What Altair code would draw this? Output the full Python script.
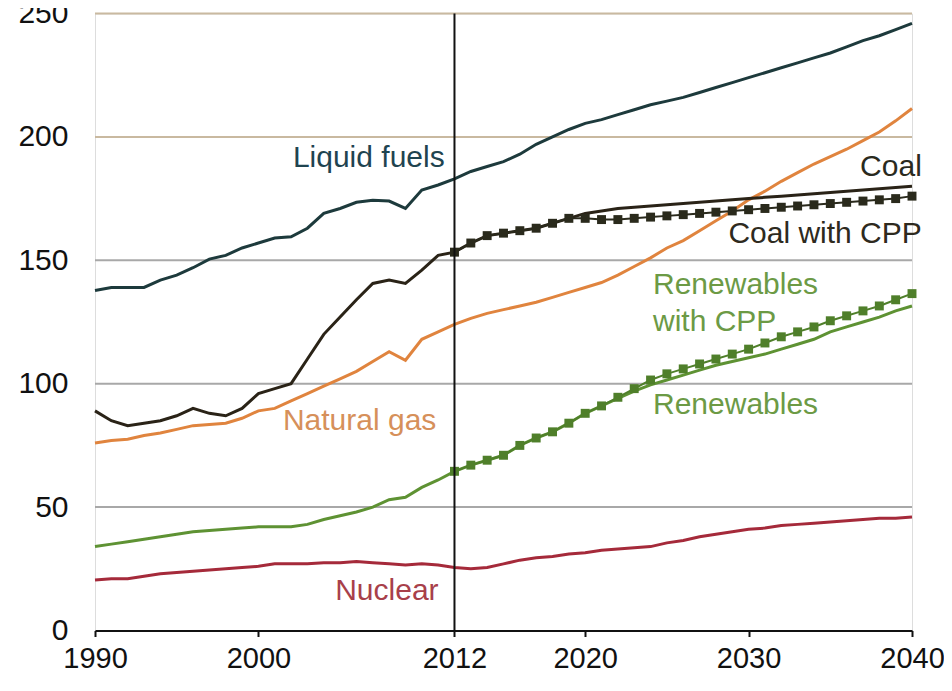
import altair as alt
import pandas as pd

years = list(range(1990, 2041))
proj_years = list(range(2012, 2041))

liquid_fuels = [137.8, 139, 139, 139, 142, 144, 147, 150.5, 152, 155,
                157, 159, 159.5, 163, 169, 171, 173.5, 174.3, 174, 171,
                178.5, 180.5, 183, 186, 188, 190, 193, 197, 200, 203,
                205.5, 207, 209, 211, 213, 214.5, 216, 218, 220, 222,
                224, 226, 228, 230, 232, 234, 236.5, 239, 241, 243.5, 246]

natural_gas = [76, 77, 77.5, 79, 80, 81.5, 83, 83.5, 84, 86,
               89, 90, 93, 96, 99, 102, 105, 109, 113, 109.5,
               118, 121, 124, 126.5, 128.5, 130, 131.5, 133, 135, 137,
               139, 141, 144, 147.5, 151, 155, 158, 162, 166, 170,
               174.5, 178, 182, 185.5, 189, 192, 195, 198.5, 202, 206.5, 211.5]

coal = [89, 85, 83, 84, 85, 87, 90, 88, 87, 90,
        96, 98, 100, 110, 120, 127, 134, 140.6, 142, 140.6,
        146, 152, 153.3, 157, 160, 161, 162, 163, 165, 167,
        169, 170, 171, 171.5, 172, 172.5, 173, 173.5, 174, 174.5,
        175, 175.5, 176, 176.5, 177, 177.5, 178, 178.5, 179, 179.5, 180]

coal_cpp = [153.3, 157, 160, 161, 162, 163, 165, 167,
            167, 166.5, 166.5, 167, 167.5, 168, 168.5, 169, 169.5, 170,
            170.5, 171, 171.5, 172, 172.5, 173, 173.5, 174, 174.5, 175, 176]

renewables = [34, 35, 36, 37, 38, 39, 40, 40.5, 41, 41.5,
              42, 42, 42, 43, 45, 46.5, 48, 50, 53, 54,
              58, 61, 64.5, 67, 69, 71, 75, 78, 80.5, 84,
              88, 91, 94, 97, 99.5, 101.5, 103.5, 105.5, 107.5, 109,
              110.5, 112, 114, 116, 118, 121, 123, 125, 127, 129.5, 131.5]

renewables_cpp = [64.5, 67, 69, 71, 75, 78, 80.5, 84,
                  88, 91, 94.5, 98, 101.5, 104, 106, 108, 110, 112,
                  114, 116.5, 119, 121, 123, 125.5, 127.5, 129.5, 131.5, 134, 136.5]

nuclear = [20.5, 21, 21, 22, 23, 23.5, 24, 24.5, 25, 25.5,
           26, 27, 27, 27, 27.5, 27.5, 28, 27.5, 27, 26.5,
           27, 26.5, 25.5, 25, 25.5, 27, 28.5, 29.5, 30, 31,
           31.5, 32.5, 33, 33.5, 34, 35.5, 36.5, 38, 39, 40,
           41, 41.5, 42.5, 43, 43.5, 44, 44.5, 45, 45.5, 45.5, 46]

x_ticks = [1990, 2000, 2012, 2020, 2030, 2040]
y_ticks = [0, 50, 100, 150, 200, 250]
grid_values = [50, 100, 150, 200, 250]
grid_colors = ["#a8a8a8", "#a8a8a8", "#a8a8a8", "#c9b9a0", "#c9b9a0"]

series_names = ["Nuclear", "Renewables", "Natural gas", "Liquid fuels", "Coal"]
series_colors = ["#a52a3a", "#5e9233", "#e0843e", "#1d3a3c", "#2a2317"]
cpp_names = ["Renewables with CPP", "Coal with CPP"]
cpp_colors = ["#4f7f2a", "#2a2a1c"]

label_text = ["Liquid fuels", "Coal", "Coal with CPP", "Renewables", "with CPP",
              "Renewables", "Natural gas", "Nuclear"]
label_year = [2011.4, 2040.6, 2040.6, 2024.15, 2024.15, 2024.15, 2001.5, 2004.7]
label_value = [191.3, 187.7, 160.5, 139.8, 124.8, 91.2, 84.7, 16.2]
label_align = ["right", "right", "right", "left", "left", "left", "left", "left"]
label_color = ["#1f4450", "#2a2a1e", "#2e2a1e", "#6c9a45", "#6c9a45", "#6c9a45", "#d6905a", "#a8404a"]

rows = []
for name, vals in zip(series_names, [nuclear, renewables, natural_gas, liquid_fuels, coal]):
    for y, v in zip(years, vals):
        rows.append({"year": y, "value": v, "series": name})
df = pd.DataFrame(rows)

cpp_rows = []
for name, vals in zip(cpp_names, [renewables_cpp, coal_cpp]):
    for y, v in zip(proj_years, vals):
        cpp_rows.append({"year": y, "value": v, "series": name})
df_cpp = pd.DataFrame(cpp_rows)

grid_df = pd.DataFrame({"value": grid_values, "color": grid_colors})
vline_df = pd.DataFrame({"year": [2012], "y0": [0], "y1": [250]})
labels_df = pd.DataFrame({"text": label_text, "year": label_year, "value": label_value,
                          "align": label_align, "color": label_color})

FONT = "Liberation Sans"
xscale = alt.Scale(domain=[1990, 2040], nice=False, zero=False)
yscale = alt.Scale(domain=[0, 250], nice=False)

x_axis = alt.Axis(values=x_ticks, format="d", grid=False, domainColor="#111", domainWidth=2,
                  tickColor="#111", tickWidth=2, tickSize=6, labelPadding=8, labelFontSize=29,
                  labelFont=FONT, labelColor="#111", title=None, labelFlush=False)
y_axis = alt.Axis(values=y_ticks, grid=False, domain=False, ticks=False, tickSize=0,
                  labelPadding=27, labelFontSize=30, labelFont=FONT, labelColor="#111", title=None)

grid = alt.Chart(grid_df).mark_rule(strokeWidth=2).encode(
    y=alt.Y("value:Q", scale=yscale, axis=y_axis),
    color=alt.Color("color:N", scale=None),
)

lines = alt.Chart(df).mark_line(strokeWidth=3).encode(
    x=alt.X("year:Q", scale=xscale, axis=x_axis),
    y=alt.Y("value:Q", scale=yscale),
    color=alt.Color("series:N", scale=alt.Scale(domain=series_names, range=series_colors), legend=None),
    detail="series:N",
)

cpp_lines = alt.Chart(df_cpp).mark_line(strokeWidth=2).encode(
    x=alt.X("year:Q", scale=xscale),
    y=alt.Y("value:Q", scale=yscale),
    color=alt.Color("series:N", scale=alt.Scale(domain=cpp_names, range=cpp_colors), legend=None),
)

cpp_pts = alt.Chart(df_cpp).mark_square(size=80, opacity=1, filled=True).encode(
    x=alt.X("year:Q", scale=xscale),
    y=alt.Y("value:Q", scale=yscale),
    color=alt.Color("series:N", scale=alt.Scale(domain=cpp_names, range=cpp_colors), legend=None),
)

vline = alt.Chart(vline_df).mark_rule(color="#111", strokeWidth=2).encode(
    x=alt.X("year:Q", scale=xscale),
    y=alt.Y("y0:Q", scale=yscale),
    y2="y1:Q",
)

left_labels = alt.Chart(labels_df[labels_df["align"] == "left"]).mark_text(
    align="left", baseline="middle", font=FONT, fontSize=30
).encode(
    x=alt.X("year:Q", scale=xscale),
    y=alt.Y("value:Q", scale=yscale),
    text="text:N",
    color=alt.Color("color:N", scale=None),
)
right_labels = alt.Chart(labels_df[labels_df["align"] == "right"]).mark_text(
    align="right", baseline="middle", font=FONT, fontSize=30
).encode(
    x=alt.X("year:Q", scale=xscale),
    y=alt.Y("value:Q", scale=yscale),
    text="text:N",
    color=alt.Color("color:N", scale=None),
)

chart = alt.layer(grid, lines, cpp_lines, cpp_pts, vline, left_labels, right_labels).resolve_scale(
    color="independent"
).properties(
    width=817, height=617,
    autosize=alt.AutoSizeParams(type="none"),
    padding={"left": 87, "top": 5.5, "right": 32, "bottom": 50},
).configure_view(stroke=None).configure(background="white")

chart.save("out.html", embed_options={"renderer": "svg", "actions": False})
